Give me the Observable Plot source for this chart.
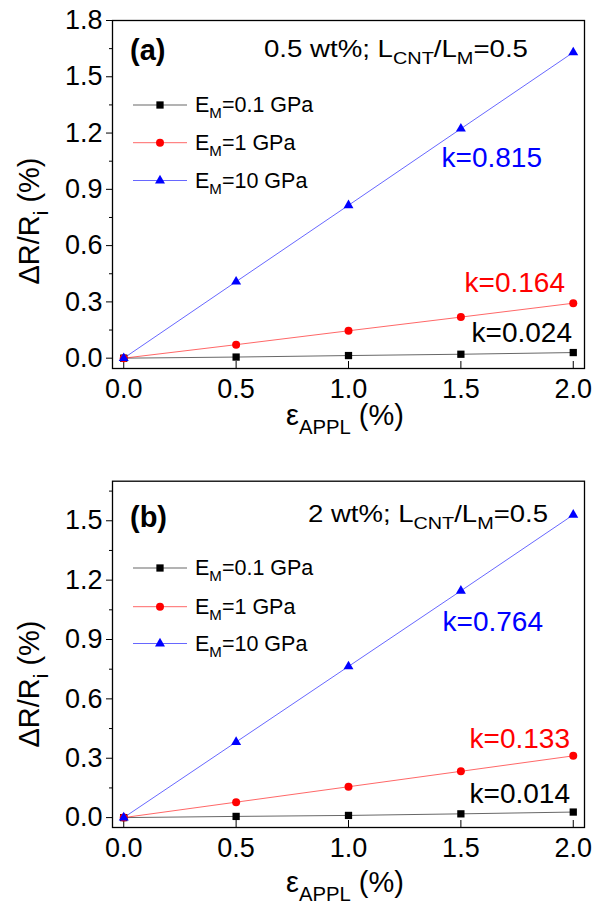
<!DOCTYPE html>
<html><head><meta charset="utf-8">
<script src="https://cdn.jsdelivr.net/npm/d3@7"></script>
<script src="https://cdn.jsdelivr.net/npm/@observablehq/plot@0.6"></script>
<style>
body{margin:0;background:#fff}
#chart{width:593px;height:904px}
svg{display:block}
</style>
</head><body><div id="chart"></div>
<script>
// ---- data ----
const strain = [0, 0.5, 1.0, 1.5, 2.0];
const seriesLabels = [["E","M","=0.1 GPa"],["E","M","=1 GPa"],["E","M","=10 GPa"]];
const seriesColors = ["#000000", "#ff0000", "#0000ff"];
const seriesSymbols = ["square", "circle", "triangle"];
// panel (a): 0.5 wt%
const a_E01 = [0, 0.006, 0.014, 0.021, 0.030];
const a_E1  = [0, 0.072, 0.146, 0.219, 0.293];
const a_E10 = [0, 0.408, 0.815, 1.223, 1.630];
const a_k = ["k=0.024", "k=0.164", "k=0.815"];
// panel (b): 2 wt%
const b_E01 = [0, 0.006, 0.011, 0.019, 0.028];
const b_E1  = [0, 0.078, 0.156, 0.234, 0.312];
const b_E10 = [0, 0.382, 0.764, 1.146, 1.530];
const b_k = ["k=0.014", "k=0.133", "k=0.764"];
const xTicks = [0, 0.5, 1.0, 1.5, 2.0];
const a_yTicks = [0, 0.3, 0.6, 0.9, 1.2, 1.5, 1.8];
const a_yMinor = [0.15, 0.45, 0.75, 1.05, 1.35, 1.65];
const b_yTicks = [0, 0.3, 0.6, 0.9, 1.2, 1.5];
const b_yMinor = [0.15, 0.45, 0.75, 1.05, 1.35, 1.65];

const FONT = "'Liberation Sans', Arial, Helvetica, sans-serif";

function rich(parent, x, y, parts, o) {
  const size = o.size;
  const subR = o.subRatio || 0.7;
  const t = parent.append("text")
    .attr("x", x).attr("y", y)
    .attr("font-family", FONT)
    .attr("font-size", size)
    .attr("font-weight", o.weight || "normal")
    .attr("fill", o.fill || "#000")
    .attr("text-anchor", o.anchor || "start");
  if (o.rotate) t.attr("transform", `rotate(-90,${x},${y})`);
  if (o.length) t.attr("textLength", o.length).attr("lengthAdjust", "spacingAndGlyphs");
  let shift = 0;
  for (const [s, sub] of parts) {
    const target = sub ? size * 0.3 : 0;
    t.append("tspan")
      .attr("dy", target - shift)
      .attr("font-size", sub ? size * subR : size)
      .text(s);
    shift = target;
  }
  return t;
}

function panel(cfg) {
  const vals = [cfg.E01, cfg.E1, cfg.E10];
  const rows = vals.map((arr, i) => strain.map((x, j) => ({x, y: arr[j], s: i})));
  const height = 452;
  const innerH = height - cfg.marginTop - cfg.marginBottom;
  const tickLen = 7 * (cfg.yDomain[1] - cfg.yDomain[0]) / innerH;
  const marks = [
    Plot.frame({stroke: "#000", strokeWidth: 1.3}),
    Plot.axisY({ticks: cfg.yTicks, tickSize: 6, tickPadding: 4, tickFormat: d3.format(".1f"), label: null, fontSize: 27}),
    Plot.axisY({ticks: cfg.yMinor, tickSize: 3, tickFormat: () => "", label: null}),
    Plot.axisX({ticks: xTicks, tickSize: 0, tickPadding: 10, tickFormat: d3.format(".1f"), label: null, fontSize: 27}),
    Plot.ruleX(xTicks, {x: d => d, y1: cfg.yDomain[0], y2: cfg.yDomain[0] + tickLen, stroke: "#000", strokeWidth: 1})
  ];
  rows.forEach((r, i) => marks.push(Plot.line(r, {x: "x", y: "y", stroke: seriesColors[i], strokeWidth: 0.8, strokeOpacity: 0.75})));
  const radii = [4.1, 4, 3.7];
  rows.forEach((r, i) => marks.push(Plot.dot(r, {x: "x", y: "y", symbol: seriesSymbols[i], r: radii[i], fill: seriesColors[i], stroke: "none"})));
  const plot = Plot.plot({
    width: 593, height,
    marginTop: cfg.marginTop, marginBottom: cfg.marginBottom, marginLeft: 112, marginRight: 9,
    style: {fontFamily: FONT, color: "#000", background: "#fff", overflow: "visible"},
    x: {domain: [-0.05, 2.05]},
    y: {domain: cfg.yDomain},
    marks
  });
  const svg = d3.select(plot);
  const g = svg.append("g");
  // axis titles
  rich(g, cfg.yTitle[0], cfg.yTitle[1], [["\u0394R/R", false], ["i", true], [" (%)", false]], {size: 29, anchor: "middle", rotate: true});
  rich(g, 345, cfg.xTitleY, [["\u03b5", false], ["APPL", true], [" (%)", false]], {size: 29, anchor: "middle"});
  // panel tag
  rich(g, 130, cfg.tagY, [[cfg.tag, false]], {size: 29, weight: "bold"});
  // condition text
  rich(g, cfg.condX, cfg.condY, [[cfg.cond, false], ["L", false], ["CNT", true], ["/L", false], ["M", true], ["=0.5", false]], {size: 24, anchor: "end", subRatio: 0.72, length: cfg.condLen});
  // legend
  cfg.legendY.forEach((ly, i) => {
    g.append("line").attr("x1", 133).attr("x2", 187).attr("y1", ly).attr("y2", ly)
      .attr("stroke", seriesColors[i]).attr("stroke-width", 0.8).attr("stroke-opacity", 0.75);
    const sym = {square: d3.symbolSquare, circle: d3.symbolCircle, triangle: d3.symbolTriangle}[seriesSymbols[i]];
    g.append("path").attr("d", d3.symbol(sym, Math.PI * radii[i] * radii[i])())
      .attr("transform", `translate(160,${ly})`).attr("fill", seriesColors[i]);
    const L = seriesLabels[i];
    rich(g, 195, ly + 7, [[L[0], false], [L[1], true], [L[2], false]], {size: 21.5});
  });
  // slope labels
  cfg.kPos.forEach((p, i) => {
    rich(g, p[0], p[1], [[cfg.k[i], false]], {size: 28, fill: seriesColors[i], anchor: "end"});
  });
  return plot;
}

const root = document.getElementById("chart");
root.append(panel({
  E01: a_E01, E1: a_E1, E10: a_E10, k: a_k,
  yDomain: [-0.055, 1.8], yTicks: a_yTicks, yMinor: a_yMinor,
  marginTop: 20, marginBottom: 84,
  yTitle: [39, 221], xTitleY: 425,
  tag: "(a)", tagY: 60,
  cond: "0.5 wt%; ", condX: 528, condY: 57, condLen: 264,
  legendY: [105, 142.7, 180.5],
  kPos: [[572, 342], [565, 292], [542, 167]]
}));
root.append(panel({
  E01: b_E01, E1: b_E1, E10: b_E10, k: b_k,
  yDomain: [-0.05, 1.7], yTicks: b_yTicks, yMinor: b_yMinor,
  marginTop: 28.7, marginBottom: 77,
  yTitle: [39, 684 - 452], xTitleY: 892 - 452,
  tag: "(b)", tagY: 527 - 452,
  cond: "2 wt%; ", condX: 548, condY: 522 - 452, condLen: 240,
  legendY: [568 - 452, 606.7 - 452, 643.5 - 452],
  kPos: [[570, 803 - 452], [570, 748 - 452], [543, 631 - 452]]
}));
</script>
</body></html>
